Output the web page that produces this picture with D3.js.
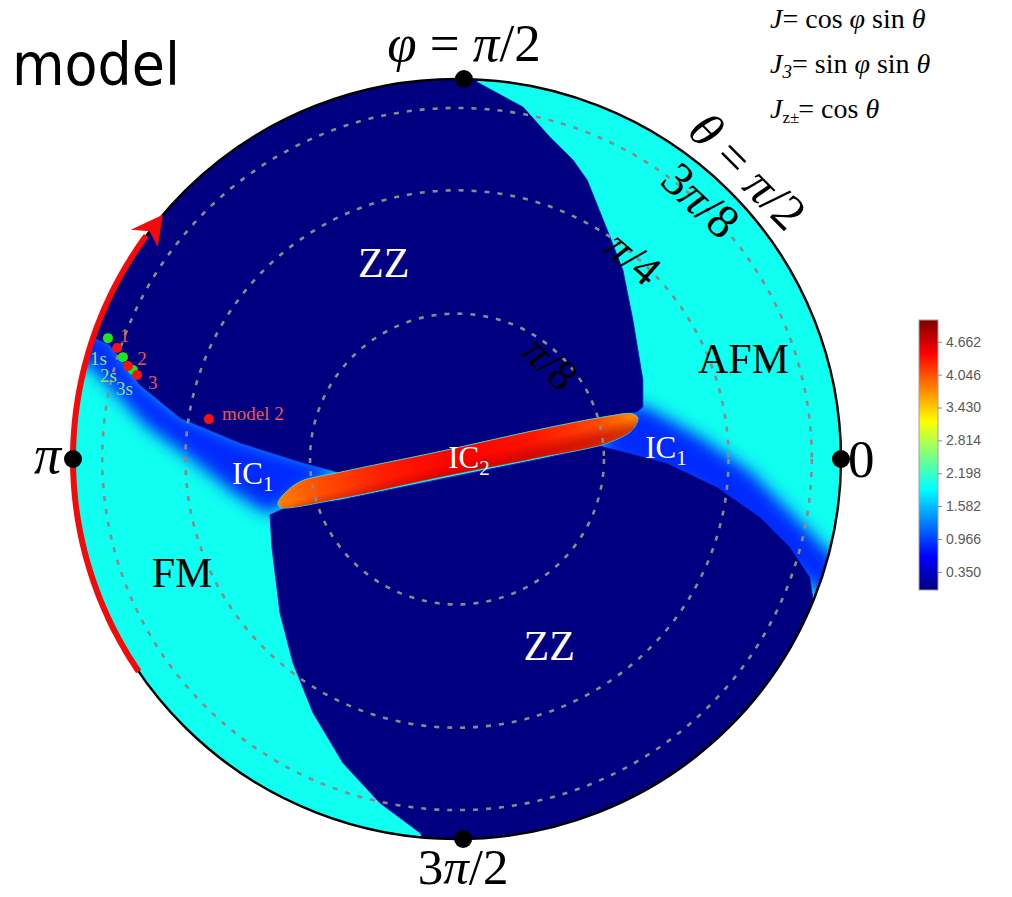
<!DOCTYPE html>
<html>
<head>
<meta charset="utf-8">
<script src="https://cdn.jsdelivr.net/npm/d3@7"></script>
<style>
  body { margin: 0; background: #fff; }
  text { font-family: "Liberation Serif", "Times New Roman", serif; }
</style>
</head>
<body>
<div id="chart"></div>
<script>
// phase diagram in the (J, J3) plane, orthographic view of the sphere
// boundaries, in data units

var zzUpper = [[0.052,0.992],[0.034,1.076],[-1.086,1.076],[-1.086,0.326],[-0.943,0.318],[-0.904,0.300],
  [-0.826,0.195],[-0.721,0.108],[-0.565,0.042],[-0.409,-0.008],[-0.331,-0.029],[-0.305,-0.037],
  [-0.044,0.018],[0.216,0.076],[0.391,0.113],[0.469,0.124],[0.484,0.137],[0.484,0.208],[0.458,0.366],
  [0.432,0.497],[0.391,0.603],[0.339,0.734],[0.302,0.787],[0.242,0.847],[0.172,0.926]];

var zzLower = [[-0.487,-0.147],[-0.482,-0.232],[-0.461,-0.405],[-0.427,-0.537],[-0.375,-0.668],
  [-0.297,-0.800],[-0.201,-0.905],[-0.096,-0.984],[-0.044,-1.082],[1.076,-1.082],[1.076,-0.376],
  [0.927,-0.371],[0.919,-0.311],[0.867,-0.232],[0.789,-0.153],[0.677,-0.074],[0.547,-0.011],
  [0.438,0.018],[0.372,0.034],[0.216,0.000],[-0.044,-0.053],[-0.305,-0.108],[-0.448,-0.129]];

var ic1Left = [[-1.034,0.366],[-0.904,0.326],[-0.826,0.208],[-0.721,0.121],[-0.565,0.055],
  [-0.409,0.005],[-0.292,-0.024],[-0.409,-0.087],[-0.487,-0.147],[-0.575,-0.095],[-0.680,-0.010],
  [-0.812,0.088],[-0.900,0.185],[-0.956,0.245],[-1.034,0.270]];

var ic1Right = [[0.438,0.134],[0.484,0.142],[0.633,0.058],[0.763,-0.032],[0.859,-0.130],
  [0.945,-0.220],[1.023,-0.300],[1.023,-0.424],[0.633,-0.082],[0.372,0.011],[0.372,0.050]];

var ic2 = [[-0.466,-0.116],[-0.453,-0.095],[-0.409,-0.060],[-0.305,-0.035],[-0.044,0.020],
  [0.216,0.078],[0.391,0.112],[0.456,0.119],[0.471,0.108],[0.456,0.076],[0.391,0.042],
  [0.216,0.004],[-0.044,-0.048],[-0.305,-0.104],[-0.461,-0.127]];

// colour value of each phase (colour bar units)
var phaseValue = { zz: 0.02, fm: 1.98, ic1: 0.85 };
var ic2Offsets = [0, 0.12, 0.3, 0.5, 0.7, 0.88, 1];
var ic2Values  = [3.8, 4.05, 4.3, 4.45, 4.35, 4.1, 3.75];

var thetaCircles = [Math.PI / 8, Math.PI / 4, 3 * Math.PI / 8];
var thetaLabels = [
  { text: "π/8",  r: 0.35, ang: 46, size: 44 },
  { text: "π/4",  r: 0.70, ang: 49, size: 44 },
  { text: "3π/8", r: 0.93, ang: 47, size: 48 },
  { text: "θ = π/2", r: 1.07, ang: 45, size: 50 }
];

var axisDots = [[1, 0], [0.018, 1], [-1, 0], [0.016, -1]];

var greenPts = [[-0.909,0.318],[-0.870,0.268],[-0.844,0.234]];
var redPts   = [[-0.885,0.292],[-0.857,0.245],[-0.833,0.221],[-0.646,0.105]];
var redLabels   = [["1",-0.878,0.308],["2",-0.833,0.247],["3",-0.805,0.184],["model 2",-0.612,0.103]];
var greenLabels = [["1s",-0.956,0.247],["2s",-0.930,0.203],["3s",-0.888,0.168]];

var arrowFrom = 214, arrowTo = 140;   // degrees on the rim

var cbMin = 0.01, cbMax = 5.07;
var cbTicks = [0.350, 0.966, 1.582, 2.198, 2.814, 3.430, 4.046, 4.662];
var jetStops = [0, 0.125, 0.375, 0.625, 0.875, 1];
var jetColors = ["#00007f", "#0000ff", "#00ffff", "#ffff00", "#ff0000", "#7f0000"];

var W = 1012, H = 897;

var svg = d3.select("#chart").append("svg")
  .attr("width", W).attr("height", H);

var x = d3.scaleLinear().domain([-1, 1]).range([73, 841]);
var y = d3.scaleLinear().domain([-1, 1]).range([839, 79]);

var jet = d3.scaleLinear()
  .domain(jetStops.map(function(t) { return cbMin + t * (cbMax - cbMin); }))
  .range(jetColors);

var line = d3.line()
  .x(function(d) { return x(d[0]); })
  .y(function(d) { return y(d[1]); })
  .curve(d3.curveLinearClosed);

var defs = svg.append("defs");

defs.append("clipPath").attr("id", "disk")
  .append("ellipse")
    .attr("cx", x(0)).attr("cy", y(0))
    .attr("rx", x(1) - x(0)).attr("ry", y(-1) - y(0));

defs.append("filter").attr("id", "soft")
    .attr("x", "-20%").attr("y", "-20%").attr("width", "140%").attr("height", "140%")
  .append("feGaussianBlur").attr("stdDeviation", 8);

var g2 = defs.append("linearGradient").attr("id", "ic2grad")
  .attr("gradientUnits", "userSpaceOnUse")
  .attr("x1", x(-0.466)).attr("x2", x(0.471))
  .attr("y1", y(-0.12)).attr("y2", y(0.11));
g2.selectAll("stop").data(ic2Offsets).enter().append("stop")
  .attr("offset", function(d) { return d; })
  .attr("stop-color", function(d, i) { return jet(ic2Values[i]); });

// darker rim along the lower side of IC2, perpendicular to its axis
var g2b = defs.append("linearGradient").attr("id", "ic2edge")
  .attr("gradientUnits", "userSpaceOnUse")
  .attr("x1", x(-0.01)).attr("y1", y(0.03))
  .attr("x2", x(0.006)).attr("y2", y(-0.035));
g2b.append("stop").attr("offset", 0.55).attr("stop-color", jet(4.8)).attr("stop-opacity", 0);
g2b.append("stop").attr("offset", 1).attr("stop-color", jet(4.8)).attr("stop-opacity", 0.55);

var cbGrad = defs.append("linearGradient").attr("id", "cbgrad")
  .attr("x1", 0).attr("x2", 0).attr("y1", 1).attr("y2", 0);
cbGrad.selectAll("stop").data(jetStops).enter().append("stop")
  .attr("offset", function(d) { return d; })
  .attr("stop-color", function(d, i) { return jetColors[i]; });

// map
var map = svg.append("g").attr("clip-path", "url(#disk)");

map.append("ellipse")
  .attr("cx", x(0)).attr("cy", y(0))
  .attr("rx", x(1) - x(0)).attr("ry", y(-1) - y(0))
  .attr("fill", jet(phaseValue.fm));

map.selectAll("path.ic1").data([ic1Left, ic1Right]).enter().append("path")
  .attr("class", "ic1")
  .attr("d", line)
  .attr("fill", jet(phaseValue.ic1))
  .attr("filter", "url(#soft)");

map.selectAll("path.zz").data([zzUpper, zzLower]).enter().append("path")
  .attr("class", "zz")
  .attr("d", line)
  .attr("fill", jet(phaseValue.zz))
  .attr("stroke", "#0c22c8")
  .attr("stroke-width", 0.9);

var ic2Line = d3.line()
  .x(function(d) { return x(d[0]); })
  .y(function(d) { return y(d[1]); })
  .curve(d3.curveCatmullRomClosed);
map.append("path")
  .attr("d", ic2Line(ic2))
  .attr("fill", "url(#ic2grad)")
  .attr("stroke", "#4fd6b8")
  .attr("stroke-width", 1);
map.append("path")
  .attr("d", ic2Line(ic2))
  .attr("fill", "url(#ic2edge)");

// theta circles
svg.selectAll("ellipse.theta").data(thetaCircles).enter().append("ellipse")
  .attr("class", "theta")
  .attr("cx", x(0)).attr("cy", y(0))
  .attr("rx", function(d) { return x(Math.sin(d)) - x(0); })
  .attr("ry", function(d) { return y(0) - y(Math.sin(d)); })
  .attr("fill", "none")
  .attr("stroke", "#8a8a8a")
  .attr("stroke-width", 2.6)
  .attr("stroke-dasharray", "5,8");

// rim
svg.append("ellipse")
  .attr("cx", x(0)).attr("cy", y(0))
  .attr("rx", x(1) - x(0)).attr("ry", y(-1) - y(0))
  .attr("fill", "none").attr("stroke", "#000").attr("stroke-width", 2.5);

// red arrow along the rim
function rim(a, r) {
  var t = a * Math.PI / 180;
  return [x(r * Math.cos(t)), y(r * Math.sin(t))];
}
var arcPts = d3.range(arrowFrom, arrowTo + 3.5, -0.5).map(function(a) { return rim(a, 1.0); });
svg.append("path")
  .attr("d", d3.line()(arcPts))
  .attr("fill", "none").attr("stroke", "#f40a0a").attr("stroke-width", 6);
svg.append("path")
  .attr("d", d3.line()([rim(arrowTo, 1.0), rim(arrowTo + 4.6, 1.042), rim(arrowTo + 3.2, 1.0), rim(arrowTo + 4.4, 0.958)]) + "Z")
  .attr("fill", "#f40a0a");

// axis dots
svg.selectAll("circle.axdot").data(axisDots).enter().append("circle")
  .attr("class", "axdot")
  .attr("cx", function(d) { return x(d[0]); })
  .attr("cy", function(d) { return y(d[1]); })
  .attr("r", 9).attr("fill", "#000");

// phi labels
var phiTop = svg.append("text")
  .attr("x", x(axisDots[1][0])).attr("y", 61)
  .attr("text-anchor", "middle").attr("font-size", 53);
phiTop.append("tspan").attr("font-style", "italic").text("φ");
phiTop.append("tspan").text(" = ");
phiTop.append("tspan").attr("font-style", "italic").text("π");
phiTop.append("tspan").text("/2");

svg.append("text").attr("x", x(-1) - 12).attr("y", y(0) + 14)
  .attr("text-anchor", "end").attr("font-size", 54).attr("font-style", "italic").text("π");
svg.append("text").attr("x", x(1) + 7).attr("y", y(0) + 18)
  .attr("font-size", 53).text("0");
var phiBot = svg.append("text")
  .attr("x", x(axisDots[3][0])).attr("y", 884)
  .attr("text-anchor", "middle").attr("font-size", 51);
phiBot.append("tspan").text("3");
phiBot.append("tspan").attr("font-style", "italic").text("π");
phiBot.append("tspan").text("/2");

// theta labels, tangent to their circle
svg.selectAll("text.tl").data(thetaLabels).enter().append("text")
  .attr("class", "tl")
  .attr("transform", function(d) {
    var p = rim(d.ang, d.r);
    return "translate(" + p[0] + "," + p[1] + ") rotate(" + (90 - d.ang) + ")";
  })
  .attr("text-anchor", "middle").attr("dy", "0.33em")
  .attr("font-size", function(d) { return d.size; })
  .each(function(d) {
    var t = d3.select(this);
    d.text.split(/(θ|π)/).forEach(function(s) {
      if (!s) return;
      var sp = t.append("tspan").text(s);
      if (s === "θ" || s === "π") sp.attr("font-style", "italic");
    });
  });

// phase names
function phaseText(u, v, txt, col, anchor) {
  return svg.append("text").attr("x", x(u)).attr("y", y(v))
    .attr("font-size", 42).attr("fill", col)
    .attr("text-anchor", anchor || "middle").text(txt);
}
phaseText(-0.191, 0.479, "ZZ", "#fff");
phaseText(0.240, -0.529, "ZZ", "#fff");
phaseText(0.746, 0.226, "AFM", "#000");
phaseText(-0.716, -0.337, "FM", "#000");

function icText(u, v, sub) {
  var t = svg.append("text").attr("x", x(u)).attr("y", y(v))
    .attr("font-size", 31).attr("fill", "#fff");
  t.append("tspan").text("IC");
  t.append("tspan").attr("font-size", 21).attr("dy", 7).text(sub);
}
icText(-0.586, -0.066, "1");
icText(-0.023, -0.024, "2");
icText(0.490, 0.003, "1");

// model points
svg.selectAll("circle.gp").data(greenPts).enter().append("circle")
  .attr("cx", function(d) { return x(d[0]); }).attr("cy", function(d) { return y(d[1]); })
  .attr("r", 5).attr("fill", "#1ee61e");
svg.selectAll("circle.rp").data(redPts).enter().append("circle")
  .attr("cx", function(d) { return x(d[0]); }).attr("cy", function(d) { return y(d[1]); })
  .attr("r", 5).attr("fill", "#f41414");
svg.selectAll("text.rl").data(redLabels).enter().append("text")
  .attr("x", function(d) { return x(d[1]); }).attr("y", function(d) { return y(d[2]); })
  .attr("font-size", 19).attr("fill", "#ec5656").text(function(d) { return d[0]; });
svg.selectAll("text.gl").data(greenLabels).enter().append("text")
  .attr("x", function(d) { return x(d[1]); }).attr("y", function(d) { return y(d[2]); })
  .attr("font-size", 19).attr("fill", "#8ee06a").text(function(d) { return d[0]; });

// title
svg.append("text").attr("x", 12).attr("y", 85)
  .style("font-family", "'DejaVu Sans', Verdana, sans-serif")
  .attr("font-size", 58).attr("textLength", 168).attr("lengthAdjust", "spacingAndGlyphs")
  .text("model");

// couplings
var eq = svg.append("g").attr("font-size", 28);
var e1 = eq.append("text").attr("x", 770).attr("y", 28);
e1.append("tspan").attr("font-style", "italic").text("J");
e1.append("tspan").text("= cos ");
e1.append("tspan").attr("font-style", "italic").text("φ");
e1.append("tspan").text(" sin ");
e1.append("tspan").attr("font-style", "italic").text("θ");
var e2 = eq.append("text").attr("x", 770).attr("y", 73);
e2.append("tspan").attr("font-style", "italic").text("J");
e2.append("tspan").attr("font-style", "italic").attr("font-size", 19).attr("dy", 5).text("3");
e2.append("tspan").attr("dy", -5).text("= sin ");
e2.append("tspan").attr("font-style", "italic").text("φ");
e2.append("tspan").text(" sin ");
e2.append("tspan").attr("font-style", "italic").text("θ");
var e3 = eq.append("text").attr("x", 770).attr("y", 118);
e3.append("tspan").attr("font-style", "italic").text("J");
e3.append("tspan").attr("font-size", 17).attr("dy", 5).text("z±");
e3.append("tspan").attr("dy", -5).attr("dx", -1).text("= cos ");
e3.append("tspan").attr("font-style", "italic").text("θ");

// colour bar
var cb = d3.scaleLinear().domain([cbMin, cbMax]).range([590, 320]);
var cbg = svg.append("g");
cbg.append("rect").attr("x", 919).attr("y", cb(cbMax))
  .attr("width", 19).attr("height", cb(cbMin) - cb(cbMax))
  .attr("fill", "url(#cbgrad)").attr("stroke", "#a0a0a0").attr("stroke-width", 1);
var cbAxis = cbg.append("g").attr("transform", "translate(938,0)")
  .call(d3.axisRight(cb).tickValues(cbTicks).tickFormat(d3.format(".3f")).tickSize(4).tickPadding(4));
cbAxis.select(".domain").remove();
cbAxis.selectAll("line").attr("stroke", "#888");
cbAxis.selectAll("text").attr("fill", "#5a5a5a")
  .style("font-family", "'Liberation Sans', Arial, sans-serif").attr("font-size", 14);
</script>
</body>
</html>
